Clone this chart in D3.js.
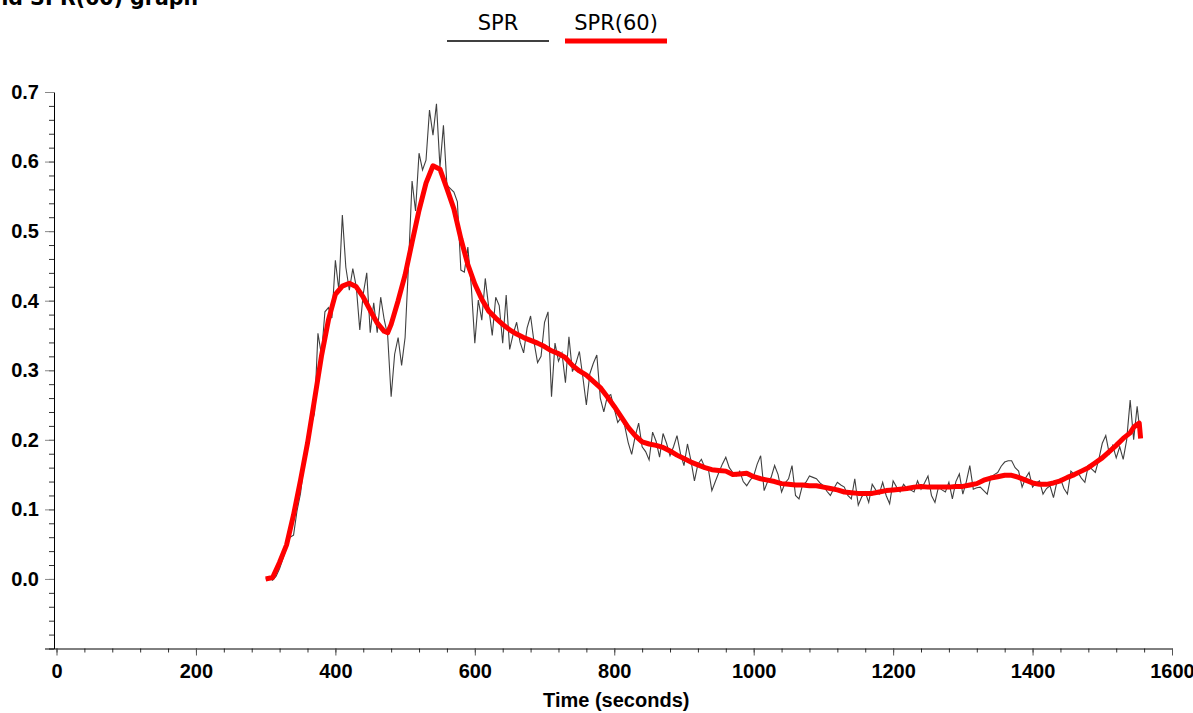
<!DOCTYPE html>
<html>
<head>
<meta charset="utf-8">
<script src="https://cdn.jsdelivr.net/npm/d3@7"></script>
<style>
  body { margin: 0; background: #fff; }
  .tick text { font-family: "Liberation Sans", Arial, sans-serif; font-weight: bold; font-size: 20px; fill: #000; }
</style>
</head>
<body>
<div id="vis"></div>
<script>
// SPR raw samples (every 5 s from 300 s)
var sprStart = 300, sprStep = 5;
var sprValues = [
  0.000, 0.002, -0.002, 0.004, 0.015, 0.030, 0.045, 0.060, 0.063, 0.098,
  0.123, 0.165, 0.190, 0.220, 0.238, 0.353, 0.322, 0.384, 0.390, 0.375,
  0.458, 0.415, 0.523, 0.448, 0.415, 0.446, 0.420, 0.358, 0.410, 0.440,
  0.354, 0.397, 0.354, 0.405, 0.373, 0.350, 0.262, 0.323, 0.347, 0.307,
  0.347, 0.454, 0.572, 0.529, 0.612, 0.588, 0.602, 0.674, 0.638, 0.683,
  0.592, 0.652, 0.566, 0.561, 0.556, 0.542, 0.444, 0.441, 0.477, 0.420,
  0.339, 0.401, 0.372, 0.432, 0.390, 0.350, 0.405, 0.393, 0.339, 0.408,
  0.330, 0.352, 0.369, 0.340, 0.325, 0.361, 0.378, 0.340, 0.311, 0.320,
  0.369, 0.384, 0.262, 0.339, 0.313, 0.325, 0.282, 0.348, 0.298, 0.310,
  0.327, 0.290, 0.250, 0.295, 0.310, 0.322, 0.260, 0.240, 0.262, 0.265,
  0.245, 0.225, 0.232, 0.220, 0.196, 0.179, 0.205, 0.224, 0.190, 0.183,
  0.171, 0.211, 0.198, 0.175, 0.209, 0.195, 0.177, 0.190, 0.206, 0.180,
  0.163, 0.194, 0.170, 0.141, 0.165, 0.172, 0.160, 0.158, 0.127, 0.140,
  0.153, 0.165, 0.175, 0.160, 0.153, 0.148, 0.155, 0.140, 0.134, 0.142,
  0.148, 0.165, 0.177, 0.127, 0.140, 0.146, 0.163, 0.150, 0.125, 0.138,
  0.144, 0.163, 0.120, 0.115, 0.135, 0.139, 0.148, 0.146, 0.144, 0.138,
  0.134, 0.126, 0.120, 0.130, 0.139, 0.135, 0.132, 0.120, 0.115, 0.144,
  0.106, 0.118, 0.125, 0.110, 0.136, 0.128, 0.122, 0.139, 0.120, 0.108,
  0.141, 0.132, 0.125, 0.136, 0.130, 0.128, 0.125, 0.141, 0.129, 0.138,
  0.148, 0.120, 0.110, 0.132, 0.128, 0.125, 0.139, 0.115, 0.140, 0.151,
  0.122, 0.140, 0.163, 0.129, 0.131, 0.132, 0.127, 0.122, 0.146, 0.150,
  0.153, 0.162, 0.168, 0.170, 0.170, 0.160, 0.155, 0.132, 0.145, 0.153,
  0.132, 0.138, 0.141, 0.122, 0.130, 0.134, 0.117, 0.140, 0.144, 0.130,
  0.122, 0.155, 0.150, 0.153, 0.145, 0.139, 0.163, 0.158, 0.153, 0.172,
  0.195, 0.206, 0.180, 0.192, 0.174, 0.190, 0.172, 0.200, 0.257, 0.200,
  0.248, 0.203
];

// SPR(60) smoothed curve
var smoothTimes = [
  300, 310, 320, 330, 340, 350, 360, 370, 380, 390,
  400, 410, 420, 430, 440, 450, 460, 470, 475, 480,
  490, 500, 510, 520, 530, 540, 550, 560, 570, 580,
  590, 600, 610, 620, 630, 640, 650, 660, 670, 680,
  690, 700, 710, 720, 730, 740, 750, 760, 770, 780,
  790, 800, 810, 820, 830, 840, 850, 860, 870, 880,
  890, 900, 910, 920, 930, 940, 950, 960, 970, 980,
  990, 1000, 1010, 1020, 1030, 1040, 1050, 1060, 1070, 1080,
  1090, 1100, 1110, 1120, 1130, 1140, 1150, 1160, 1170, 1180,
  1190, 1200, 1210, 1220, 1230, 1240, 1250, 1260, 1270, 1280,
  1290, 1300, 1310, 1320, 1330, 1340, 1350, 1360, 1370, 1380,
  1390, 1400, 1410, 1420, 1430, 1440, 1450, 1460, 1470, 1480,
  1490, 1500, 1510, 1520, 1530, 1540, 1545, 1550, 1553, 1555
];
var smoothValues = [
  0.000, 0.002, 0.024, 0.049, 0.092, 0.142, 0.195, 0.257, 0.320, 0.372,
  0.409, 0.421, 0.425, 0.420, 0.405, 0.386, 0.368, 0.356, 0.354, 0.366,
  0.400, 0.437, 0.484, 0.530, 0.569, 0.594, 0.589, 0.561, 0.532, 0.489,
  0.452, 0.424, 0.402, 0.385, 0.375, 0.366, 0.358, 0.352, 0.347, 0.343,
  0.339, 0.334, 0.328, 0.324, 0.318, 0.307, 0.299, 0.293, 0.284, 0.275,
  0.262, 0.248, 0.233, 0.218, 0.206, 0.197, 0.194, 0.192, 0.189, 0.184,
  0.178, 0.173, 0.168, 0.164, 0.160, 0.157, 0.156, 0.155, 0.150, 0.151,
  0.152, 0.147, 0.144, 0.142, 0.140, 0.137, 0.136, 0.135, 0.135, 0.134,
  0.134, 0.132, 0.130, 0.128, 0.125, 0.124, 0.123, 0.123, 0.123, 0.125,
  0.127, 0.128, 0.129, 0.130, 0.132, 0.133, 0.132, 0.132, 0.132, 0.132,
  0.133, 0.133, 0.135, 0.137, 0.142, 0.145, 0.147, 0.149, 0.149, 0.146,
  0.142, 0.138, 0.136, 0.136, 0.138, 0.141, 0.146, 0.150, 0.155, 0.160,
  0.167, 0.174, 0.183, 0.192, 0.202, 0.210, 0.218, 0.222, 0.224, 0.202
];

var seriesNames = ["SPR", "SPR(60)"];
var seriesColors = ["#404040", "#ff0000"];
var xTicks = [0, 200, 400, 600, 800, 1000, 1200, 1400, 1600];
var yTicks = [0.0, 0.1, 0.2, 0.3, 0.4, 0.5, 0.6, 0.7];

var W = 1193, H = 713;
var margin = {top: 92, left: 56.5},
    width = 1172 - 56.5,
    height = 648.5 - 92;

var x = d3.scaleLinear().domain([0, 1600]).range([0, width]);
var y = d3.scaleLinear().domain([-0.1, 0.7]).range([height, 0]);

var sprData = sprValues.map(function(v, i) { return {t: sprStart + i * sprStep, v: v}; });
var smoothData = smoothTimes.map(function(t, i) { return {t: t, v: smoothValues[i]}; });

var svg = d3.select("#vis").append("svg")
    .attr("width", W)
    .attr("height", H)
    .style("display", "block");

// title, clipped by the top edge like in the original
svg.append("text")
    .attr("x", 198)
    .attr("y", 5)
    .attr("text-anchor", "end")
    .style("font-family", "'DejaVu Sans', sans-serif")
    .style("font-weight", "bold")
    .style("font-size", "20.5px")
    .text("SPR and SPR(60) graph");

var g = svg.append("g")
    .attr("transform", "translate(" + margin.left + "," + margin.top + ")");

// y axis: minor then major
g.append("g")
    .attr("transform", "translate(-2.5,0)")
    .call(d3.axisLeft(y).tickValues(d3.range(-0.1, 0.7001, 0.02)).tickSize(5).tickFormat(""))
    .call(function(s) { s.select(".domain").remove(); s.selectAll("line").attr("stroke", "#333"); });

g.append("g")
    .attr("transform", "translate(-2.5,0)")
    .call(d3.axisLeft(y).tickValues(yTicks).tickSize(9).tickPadding(6).tickSizeOuter(0).tickFormat(d3.format(".1f")))
    .call(function(s) {
      s.select(".domain").attr("stroke", "#000");
      s.selectAll(".tick line").attr("stroke", "#888");
    });

// x axis
g.append("g")
    .attr("transform", "translate(0," + height + ")")
    .call(d3.axisBottom(x).tickValues(d3.range(0, 1601, 40)).tickSize(4).tickFormat(""))
    .call(function(s) { s.select(".domain").remove(); s.selectAll("line").attr("stroke", "#333"); });

g.append("g")
    .attr("transform", "translate(0," + height + ")")
    .call(d3.axisBottom(x).tickValues(xTicks).tickSize(7).tickPadding(8).tickSizeOuter(0).tickFormat(d3.format("d")))
    .call(function(s) {
      s.select(".domain").attr("d", "M-11.5,0.5H" + width);
      s.selectAll(".tick line").attr("stroke", "#555");
    });

g.append("text")
    .attr("x", (x(0) + width) / 2 + 2)
    .attr("y", 707 - margin.top)
    .attr("text-anchor", "middle")
    .style("font-family", "'Liberation Sans', Arial, sans-serif")
    .style("font-weight", "bold")
    .style("font-size", "20px")
    .text("Time (seconds)");

// lines
var valueline = d3.line()
    .x(function(d) { return x(d.t); })
    .y(function(d) { return y(d.v); });

g.append("path")
    .datum(sprData)
    .attr("fill", "none")
    .attr("stroke", seriesColors[0])
    .attr("stroke-width", 1.1)
    .attr("d", valueline);

g.append("path")
    .datum(smoothData)
    .attr("fill", "none")
    .attr("stroke", seriesColors[1])
    .attr("stroke-width", 5)
    .attr("stroke-linejoin", "round")
    .attr("d", valueline);

// legend
var legendX = [447, 565];
var legend = svg.selectAll(".legend")
    .data(seriesNames)
  .enter().append("g")
    .attr("class", "legend")
    .attr("transform", function(d, i) { return "translate(" + legendX[i] + ",0)"; });

legend.append("line")
    .attr("x1", 0).attr("x2", 102)
    .attr("y1", 41).attr("y2", 41)
    .attr("stroke", function(d, i) { return seriesColors[i]; })
    .attr("stroke-width", function(d, i) { return i ? 5 : 2; });

legend.append("text")
    .attr("x", 51)
    .attr("y", 30)
    .attr("text-anchor", "middle")
    .style("font-family", "'DejaVu Sans', Verdana, sans-serif")
    .style("font-size", "21px")
    .text(function(d) { return d; });
</script>
</body>
</html>
